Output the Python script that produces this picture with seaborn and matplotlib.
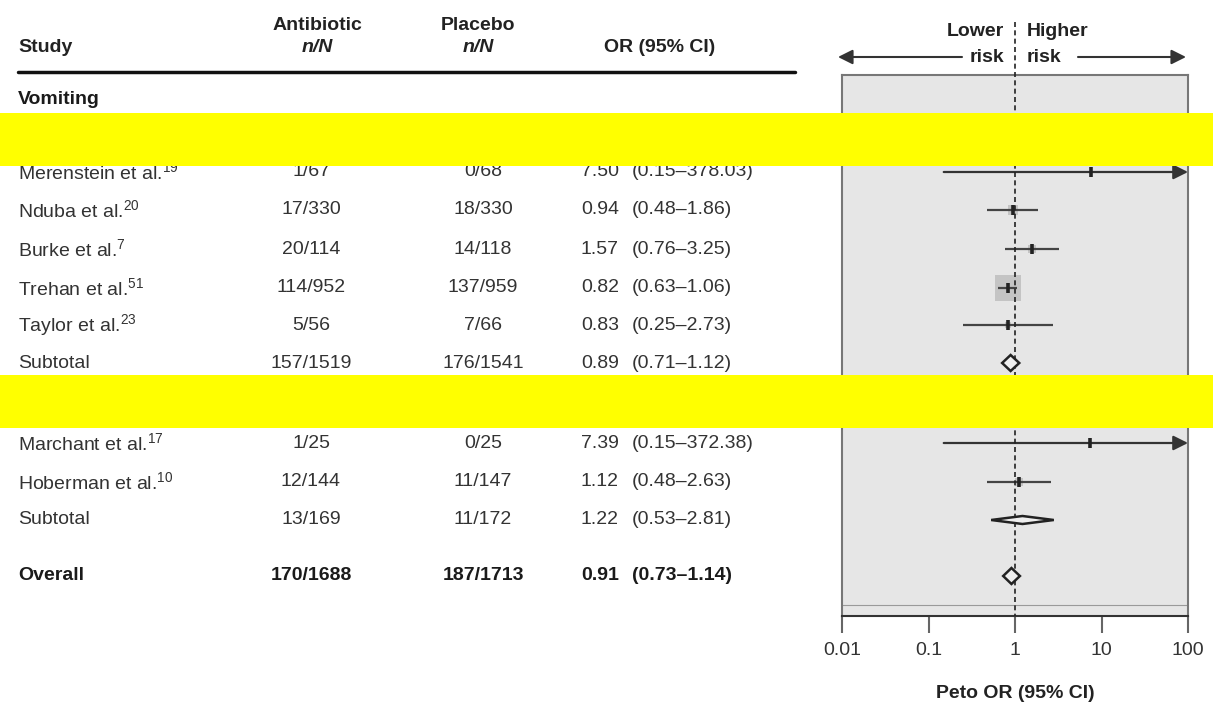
import numpy as np
import pandas as pd
import seaborn as sns
import matplotlib.pyplot as plt
import matplotlib.transforms as mtransforms
from matplotlib.patches import Rectangle, Polygon, FancyArrowPatch
from matplotlib.lines import Line2D

# ---- data ----
studies = ["Merenstein et al.", "Nduba et al.", "Burke et al.", "Trehan et al.", "Taylor et al.",
           "Subtotal", "Marchant et al.", "Hoberman et al.", "Subtotal", "Overall"]
refs = ["19", "20", "7", "51", "23", "", "17", "10", "", ""]
abx = ["1/67", "17/330", "20/114", "114/952", "5/56", "157/1519", "1/25", "12/144", "13/169", "170/1688"]
plc = ["0/68", "18/330", "14/118", "137/959", "7/66", "176/1541", "0/25", "11/147", "11/172", "187/1713"]
or_est = [7.50, 0.94, 1.57, 0.82, 0.83, 0.89, 7.39, 1.12, 1.22, 0.91]
ci_lo = [0.15, 0.48, 0.76, 0.63, 0.25, 0.71, 0.15, 0.48, 0.53, 0.73]
ci_hi = [378.03, 1.86, 3.25, 1.06, 2.73, 1.12, 372.38, 2.63, 2.81, 1.14]
kind = ["study"] * 5 + ["subtotal"] + ["study"] * 2 + ["subtotal", "overall"]
weight = [0, 10, 8, 26, 6, 0, 0, 8, 0, 0]

# ---- layout (pixel rows from top) ----
row_y = [172, 210, 249, 288, 325, 363, 443, 482, 520, 576]
diamond_half = [0, 0, 0, 0, 0, 8, 0, 0, 4, 8]

W, H = 1215, 706
sns.set_theme(style="white")
plt.rcParams["font.family"] = ["Liberation Sans", "DejaVu Sans"]
plt.rcParams["mathtext.default"] = "regular"

fig = plt.figure(figsize=(W / 100, H / 100), dpi=100)


def fx(px):
    return px / W


def fy(py):
    return 1 - py / H


ax = fig.add_axes([fx(842), fy(616), (1188 - 842) / W, (616 - 75) / H])
ax.set_xscale("log")
ax.set_xlim(0.01, 100)
ax.set_ylim(616, 75)
ax.set_facecolor("#e6e6e6")
for s in ["left", "right", "top"]:
    ax.spines[s].set_color("#777777")
    ax.spines[s].set_linewidth(1.5)
ax.spines["bottom"].set_color("#333333")
ax.spines["bottom"].set_linewidth(1.5)
ax.axhline(605, color="#9a9a9a", lw=0.8)

df = pd.DataFrame({"study": studies, "or": or_est, "lo": ci_lo, "hi": ci_hi,
                   "kind": kind, "w": weight, "y": row_y, "dh": diamond_half})
st = df[df["kind"] == "study"]

# weight boxes
boxes = st[st["w"] > 0]
sns.scatterplot(data=boxes, x="or", y="y", marker="s", s=(boxes["w"] * 0.72) ** 2,
                color="#c4c4c4", edgecolor="none", ax=ax, zorder=2, legend=False)

# CI lines
for _, r in st.iterrows():
    if r["hi"] > 100:
        ax.annotate("", xy=(100, r["y"]), xytext=(r["lo"], r["y"]),
                    arrowprops=dict(arrowstyle="-|>", color="#333333", lw=1.6,
                                    mutation_scale=22, shrinkA=0, shrinkB=0),
                    annotation_clip=False, zorder=3)
    else:
        ax.hlines(r["y"], r["lo"], r["hi"], color="#444444", lw=1.6, zorder=3)

# point estimates
sns.scatterplot(data=st, x="or", y="y", marker="|", s=55, linewidth=2.6,
                color="#222222", ax=ax, zorder=4, legend=False)

# diamonds
for _, r in df[df["kind"] != "study"].iterrows():
    poly = Polygon([(r["lo"], r["y"]), (r["or"], r["y"] - r["dh"]),
                    (r["hi"], r["y"]), (r["or"], r["y"] + r["dh"])],
                   closed=True, facecolor="#eeeeee", edgecolor="#222222", lw=1.8, zorder=4)
    ax.add_patch(poly)

# null line
ax.plot([1, 1], [22, 616], ls=(0, (3, 2)), color="#222222", lw=1.2, clip_on=False, zorder=3)

ax.set_yticks([])
ax.set_xticks([0.01, 0.1, 1, 10, 100])
ax.set_xticklabels(["0.01", "0.1", "1", "10", "100"])
ax.minorticks_off()
ax.tick_params(axis="x", direction="out", length=12, width=1.5, color="#666666",
               pad=7, labelsize=14, labelcolor="#333333", bottom=True)
ax.set_xlabel("")
ax.set_ylabel("")

fig.text(fx(1015), fy(693), "Peto OR (95% CI)", ha="center", va="center",
         fontsize=14, fontweight="bold", color="#222222")

# ---- table ----
tr = mtransforms.blended_transform_factory(fig.transFigure, ax.transData)
fs = 14
for i, r in df.iterrows():
    bold = r["kind"] == "overall"
    fw = "bold" if bold else "normal"
    col = "#1a1a1a" if bold else "#333333"
    label = r["study"] + (r"$^{%s}$" % refs[i] if refs[i] else "")
    ax.text(fx(18), r["y"], label, transform=tr, ha="left", va="center",
            fontsize=fs, fontweight=fw, color=col)
    ax.text(fx(311), r["y"], abx[i], transform=tr, ha="center", va="center",
            fontsize=fs, fontweight=fw, color=col)
    ax.text(fx(483), r["y"], plc[i], transform=tr, ha="center", va="center",
            fontsize=fs, fontweight=fw, color=col)
    ax.text(fx(619), r["y"], f"{r['or']:.2f}", transform=tr, ha="right", va="center",
            fontsize=fs, fontweight=fw, color=col)
    ax.text(fx(632), r["y"], f"({r['lo']:.2f}\u2013{r['hi']:.2f})", transform=tr,
            ha="left", va="center", fontsize=fs, fontweight=fw, color=col)

ax.text(fx(18), 100, "Vomiting", transform=tr, ha="left", va="center",
        fontsize=fs, fontweight="bold", color="#1a1a1a")

# headers
hcol = "#222222"
fig.text(fx(18), fy(48), "Study", ha="left", va="center", fontsize=fs, fontweight="bold", color=hcol)
fig.text(fx(317), fy(25), "Antibiotic", ha="center", va="center", fontsize=fs, fontweight="bold", color=hcol)
fig.text(fx(317), fy(48), "n/N", ha="center", va="center", fontsize=fs, fontweight="bold",
         fontstyle="italic", color=hcol)
fig.text(fx(478), fy(25), "Placebo", ha="center", va="center", fontsize=fs, fontweight="bold", color=hcol)
fig.text(fx(478), fy(48), "n/N", ha="center", va="center", fontsize=fs, fontweight="bold",
         fontstyle="italic", color=hcol)
fig.text(fx(660), fy(48), "OR (95% CI)", ha="center", va="center", fontsize=fs, fontweight="bold", color=hcol)
fig.add_artist(Line2D([fx(18), fx(795)], [fy(72), fy(72)], color="#111111", lw=2.5))

fig.text(fx(1004), fy(32), "Lower", ha="right", va="center", fontsize=fs, fontweight="bold", color=hcol)
fig.text(fx(1004), fy(57), "risk", ha="right", va="center", fontsize=fs, fontweight="bold", color=hcol)
fig.text(fx(1027), fy(32), "Higher", ha="left", va="center", fontsize=fs, fontweight="bold", color=hcol)
fig.text(fx(1027), fy(57), "risk", ha="left", va="center", fontsize=fs, fontweight="bold", color=hcol)
for x0, x1 in [(962, 838), (1078, 1186)]:
    fig.add_artist(FancyArrowPatch(
        (fx(x0), fy(57)), (fx(x1), fy(57)), transform=fig.transFigure,
        arrowstyle="-|>", color="#333333", lw=1.5, mutation_scale=22, shrinkA=0, shrinkB=0))

# yellow masking bands
for y0, y1 in [(113, 166), (375, 428)]:
    fig.add_artist(Rectangle((0, fy(y1)), fx(1213), (y1 - y0) / H, transform=fig.transFigure,
                             facecolor="#ffff00", edgecolor="none", zorder=20))

fig.savefig("out.png", dpi=100)
